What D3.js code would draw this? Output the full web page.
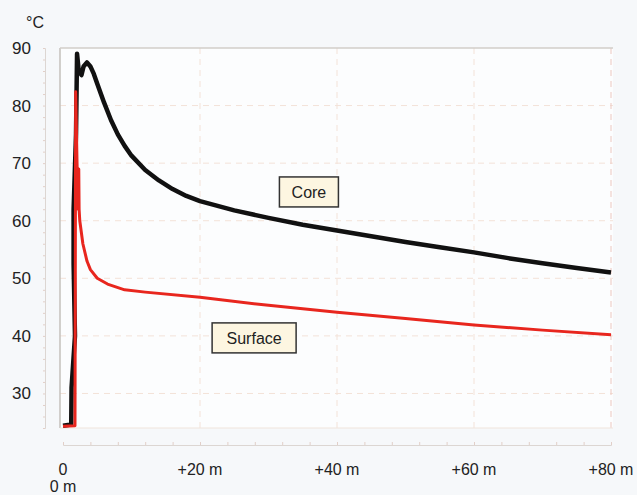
<!DOCTYPE html>
<html>
<head>
<meta charset="utf-8">
<script src="https://cdn.jsdelivr.net/npm/d3@7"></script>
<style>
  body { margin: 0; background: #f6f8fa; }
  svg { display: block; font-family: "Liberation Sans", Arial, sans-serif; }
</style>
</head>
<body>
<svg id="chart" width="637" height="495"></svg>
<script>
// time in minutes, temperature in °C
var coreTime = [0, 1.2, 1.25, 1.75, 1.55, 1.55, 1.9, 2.05, 2.3, 2.7, 3.0, 3.5, 4.0, 4.5, 5.0, 6, 7, 8, 9, 10, 12, 14, 16, 18, 20, 25, 30, 35, 40, 45, 50, 55, 60, 65, 70, 75, 80];
var coreTemp = [24.4, 24.6, 31, 40, 52.5, 62, 75, 89, 86, 85.3, 86.8, 87.5, 86.8, 85.5, 83.8, 80.5, 77.5, 75, 73, 71.3, 68.8, 67, 65.5, 64.3, 63.4, 61.8, 60.5, 59.3, 58.3, 57.3, 56.3, 55.4, 54.5, 53.5, 52.6, 51.8, 51.0];

var surfaceTime = [0, 1.75, 1.85, 2.05, 2.2, 2.3, 2.35, 2.45, 2.9, 3.5, 4, 5, 6.5, 9, 12, 20, 30, 40, 50, 60, 70, 80];
var surfaceTemp = [24.3, 24.4, 82.4, 70, 62, 69, 62, 60, 56, 53, 51.5, 50, 49, 48, 47.6, 46.7, 45.3, 44.1, 43, 41.9, 41, 40.2];

var yTicks = [30, 40, 50, 60, 70, 80, 90];
var xTicks = [0, 20, 40, 60, 80];
var xTickLabels = ["0", "+20 m", "+40 m", "+60 m", "+80 m"];

var svg = d3.select("#chart");

var x = d3.scaleLinear().domain([0, 80]).range([63, 611]);
var y = d3.scaleLinear().domain([24, 90]).range([428, 48]);

var frameLeft = 60, frameRight = 613, frameTop = 48, frameBottom = 428;

// plot background
svg.append("rect")
    .attr("x", frameLeft).attr("y", frameTop)
    .attr("width", frameRight - frameLeft)
    .attr("height", frameBottom - frameTop)
    .attr("fill", "#fcfdfe");

// grid
var grid = svg.append("g").attr("class", "grid");
grid.selectAll("line.h")
    .data(yTicks.filter(d => d < 90))
    .enter().append("line")
    .attr("x1", frameLeft).attr("x2", frameRight)
    .attr("y1", d => y(d)).attr("y2", d => y(d))
    .attr("stroke", "#f3e2d8")
    .attr("stroke-dasharray", "6,5");
grid.selectAll("line.v")
    .data(xTicks.filter(d => d > 0))
    .enter().append("line")
    .attr("x1", d => x(d)).attr("x2", d => x(d))
    .attr("y1", frameTop).attr("y2", frameBottom)
    .attr("stroke", d => d == 80 ? "#ecc8c0" : "#f3e2d8")
    .attr("stroke-dasharray", "6,5");

// frame
svg.append("line")
    .attr("x1", frameLeft).attr("x2", frameLeft)
    .attr("y1", frameTop).attr("y2", frameBottom)
    .attr("stroke", "#c4c0bb").attr("stroke-width", 1.5);
svg.append("line")
    .attr("x1", frameLeft).attr("x2", frameRight)
    .attr("y1", frameTop).attr("y2", frameTop)
    .attr("stroke", "#d2cec9").attr("stroke-width", 1.5);
svg.append("line")
    .attr("x1", frameLeft).attr("x2", frameRight)
    .attr("y1", frameBottom).attr("y2", frameBottom)
    .attr("stroke", "#f0e4dc").attr("stroke-width", 1);

// y axis
var yAxis = d3.axisLeft(y)
    .tickValues(d3.range(24, 91, 2))
    .tickSize(2)
    .tickFormat("");
var yGroup = svg.append("g")
    .attr("transform", "translate(45,0)")
    .call(yAxis);
yGroup.select(".domain").attr("stroke", "#dcd6d2");
yGroup.selectAll(".tick line").attr("stroke", "#e2cfc8");

svg.append("g").selectAll("text")
    .data(yTicks)
    .enter().append("text")
    .attr("x", 31)
    .attr("y", d => y(d) + 6)
    .attr("text-anchor", "end")
    .attr("font-size", "17px")
    .attr("fill", "#222")
    .text(d => d);

svg.append("text")
    .attr("x", 26).attr("y", 28)
    .attr("font-size", "16px")
    .attr("fill", "#222")
    .text("°C");

// x axis
var xAxis = d3.axisTop(x)
    .tickValues(d3.range(0, 81, 4))
    .tickSize(3)
    .tickFormat("");
var xGroup = svg.append("g")
    .attr("transform", "translate(0,445)")
    .call(xAxis);
xGroup.select(".domain").attr("stroke", "#dcd6d2");
xGroup.selectAll(".tick line").attr("stroke", "#e2cfc8");

svg.append("g").selectAll("text")
    .data(xTicks)
    .enter().append("text")
    .attr("x", d => x(d))
    .attr("y", 475)
    .attr("text-anchor", "middle")
    .attr("font-size", "16px")
    .attr("fill", "#222")
    .text((d, i) => xTickLabels[i]);

svg.append("text")
    .attr("x", x(0)).attr("y", 492)
    .attr("text-anchor", "middle")
    .attr("font-size", "16px")
    .attr("fill", "#222")
    .text("0 m");

// lines
var line = d3.line()
    .x(d => x(d[0]))
    .y(d => y(d[1]));

var surfaceData = surfaceTime.map((t, i) => [t, surfaceTemp[i]]);
var coreData = coreTime.map((t, i) => [t, coreTemp[i]]);

svg.append("path")
    .datum(coreData)
    .attr("d", line)
    .attr("fill", "none")
    .attr("stroke", "#111")
    .attr("stroke-width", 4.5)
    .attr("stroke-linejoin", "round");

svg.append("path")
    .datum(surfaceData)
    .attr("d", line)
    .attr("fill", "none")
    .attr("stroke", "#e8261e")
    .attr("stroke-width", 3)
    .attr("stroke-linejoin", "round");

// labels
function drawLabel(text, t, temp, w, h) {
    var g = svg.append("g")
        .attr("transform", "translate(" + x(t) + "," + y(temp) + ")");
    g.append("rect")
        .attr("x", -w / 2).attr("y", -h / 2)
        .attr("width", w).attr("height", h)
        .attr("fill", "#fdf6e1")
        .attr("stroke", "#333")
        .attr("stroke-width", 1.5);
    g.append("text")
        .attr("text-anchor", "middle")
        .attr("dy", "0.36em")
        .attr("font-size", "16px")
        .attr("fill", "#222")
        .text(text);
}
drawLabel("Core", 35.9, 65.0, 59, 30);
drawLabel("Surface", 27.9, 39.65, 84, 30);
</script>
</body>
</html>
